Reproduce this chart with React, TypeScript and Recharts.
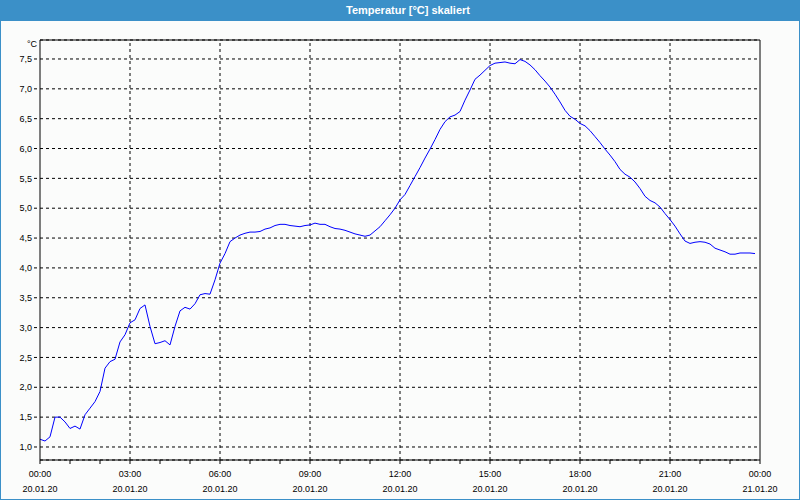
import { CartesianGrid, Line, LineChart, ReferenceLine, XAxis, YAxis } from "recharts";

// 10-minute readings, 20.01.20 00:00 .. 23:50
const STEP_MIN = 10;
const temps = [
  1.13, 1.1, 1.17, 1.5, 1.5, 1.42, 1.31, 1.35, 1.3, 1.54,
  1.65, 1.76, 1.93, 2.32, 2.43, 2.47, 2.76, 2.88, 3.08, 3.13,
  3.32, 3.38, 3.02, 2.73, 2.75, 2.78, 2.71, 3.02, 3.28, 3.34,
  3.31, 3.4, 3.55, 3.57, 3.56, 3.8, 4.08, 4.24, 4.44, 4.5,
  4.55, 4.58, 4.6, 4.6, 4.61, 4.65, 4.67, 4.71, 4.73, 4.73,
  4.71, 4.7, 4.69, 4.71, 4.72, 4.75, 4.73, 4.73, 4.69, 4.66,
  4.65, 4.63, 4.6, 4.57, 4.55, 4.53, 4.55, 4.62, 4.69, 4.79,
  4.89, 5.0, 5.14, 5.23, 5.38, 5.53, 5.68, 5.84, 5.99, 6.15,
  6.32, 6.45, 6.53, 6.56, 6.62, 6.81, 6.98, 7.16, 7.23, 7.31,
  7.39, 7.43, 7.44, 7.45, 7.43, 7.42, 7.49, 7.46, 7.4, 7.32,
  7.22, 7.13, 7.03, 6.91, 6.78, 6.64, 6.54, 6.49, 6.42, 6.38,
  6.3, 6.2, 6.1, 5.99, 5.89, 5.78, 5.65, 5.57, 5.52, 5.44,
  5.33, 5.2, 5.13, 5.09, 5.02, 4.91, 4.81, 4.7, 4.57, 4.45,
  4.41, 4.43, 4.44, 4.43, 4.4, 4.33, 4.3, 4.27, 4.23, 4.23,
  4.25, 4.25, 4.25, 4.24,
];

const yTicks = [1.0, 1.5, 2.0, 2.5, 3.0, 3.5, 4.0, 4.5, 5.0, 5.5, 6.0, 6.5, 7.0, 7.5];
const hourTicks = Array.from({ length: 25 }, (_, i) => i * 60);
const gridMinutes = [180, 360, 540, 720, 900, 1080, 1260];
const timeLabels: Record<number, [string, string]> = {
  0: ["00:00", "20.01.20"],
  180: ["03:00", "20.01.20"],
  360: ["06:00", "20.01.20"],
  540: ["09:00", "20.01.20"],
  720: ["12:00", "20.01.20"],
  900: ["15:00", "20.01.20"],
  1080: ["18:00", "20.01.20"],
  1260: ["21:00", "20.01.20"],
  1440: ["00:00", "21.01.20"],
};

const Y_MIN = 0.782;
const Y_MAX = 7.818;

const data = temps.map((t, i) => ({ min: i * STEP_MIN, temp: t }));

const BLUE = "#3b90c8";
const FONT = "'Liberation Sans', Arial, sans-serif";

function TimeTick(props: any) {
  const { x, y, payload } = props;
  const lab = timeLabels[payload.value];
  if (!lab) return null;
  return (
    <g>
      <text x={x} y={y + 13} textAnchor="middle" fontSize={9} fill="#000" fontFamily={FONT}>
        {lab[0]}
      </text>
      <text x={x} y={y + 28} textAnchor="middle" fontSize={9} fill="#000" fontFamily={FONT}>
        {lab[1]}
      </text>
    </g>
  );
}

function UnitLabel(props: any) {
  const vb = props.viewBox || { x: 0, y: 20, width: 40 };
  return (
    <text x={vb.x + vb.width - 3} y={vb.y + 7} textAnchor="end" fontSize={9} fill="#000" fontFamily={FONT}>
      °C
    </text>
  );
}

export default function App() {
  return (
    <div
      style={{
        position: "absolute",
        left: 0,
        top: 0,
        width: 800,
        height: 500,
        background: "#fbfcfb",
        fontFamily: FONT,
      }}
    >
      <div style={{ position: "absolute", left: 0, top: 0, width: 800, height: 21, background: BLUE }}>
        <div
          style={{
            position: "absolute",
            left: 308,
            width: 200,
            top: 4,
            textAlign: "center",
            color: "#fff",
            fontWeight: "bold",
            fontSize: 11,
            lineHeight: "13px",
          }}
        >
          Temperatur [°C] skaliert
        </div>
      </div>
      <div style={{ position: "absolute", left: 0, top: 20 }}>
        <LineChart width={800} height={480} data={data} margin={{ top: 20, right: 40, bottom: 4, left: 0 }}>
          <CartesianGrid horizontal vertical={false} stroke="#000" strokeDasharray="3 3" />
          <XAxis
            dataKey="min"
            type="number"
            domain={[0, 1440]}
            ticks={hourTicks}
            interval={0}
            height={36}
            tickSize={4}
            tickMargin={0}
            axisLine={{ stroke: "#000" }}
            tickLine={{ stroke: "#000" }}
            tick={<TimeTick />}
          />
          <YAxis
            type="number"
            domain={[Y_MIN, Y_MAX]}
            ticks={yTicks}
            interval={0}
            width={40}
            tickSize={6}
            tickMargin={2}
            allowDataOverflow
            axisLine={{ stroke: "#000" }}
            tickLine={{ stroke: "#000", strokeDasharray: "3 3" }}
            tick={{ fontSize: 9, fill: "#000", fontFamily: FONT }}
            tickFormatter={(v: number) => v.toFixed(1).replace(".", ",")}
            label={<UnitLabel />}
          />
          {gridMinutes.map((m) => (
            <ReferenceLine key={m} x={m} stroke="#000" strokeDasharray="3 3" />
          ))}
          <ReferenceLine x={1440} stroke="#000" />
          <ReferenceLine y={Y_MAX} stroke="#000" />
          <Line
            type="linear"
            dataKey="temp"
            stroke="#0000ff"
            strokeWidth={1}
            dot={false}
            isAnimationActive={false}
          />
        </LineChart>
      </div>
      <div
        style={{
          position: "absolute",
          left: 0,
          top: 0,
          width: 800,
          height: 500,
          boxSizing: "border-box",
          border: `1px solid ${BLUE}`,
          borderTop: "none",
          pointerEvents: "none",
        }}
      />
    </div>
  );
}
